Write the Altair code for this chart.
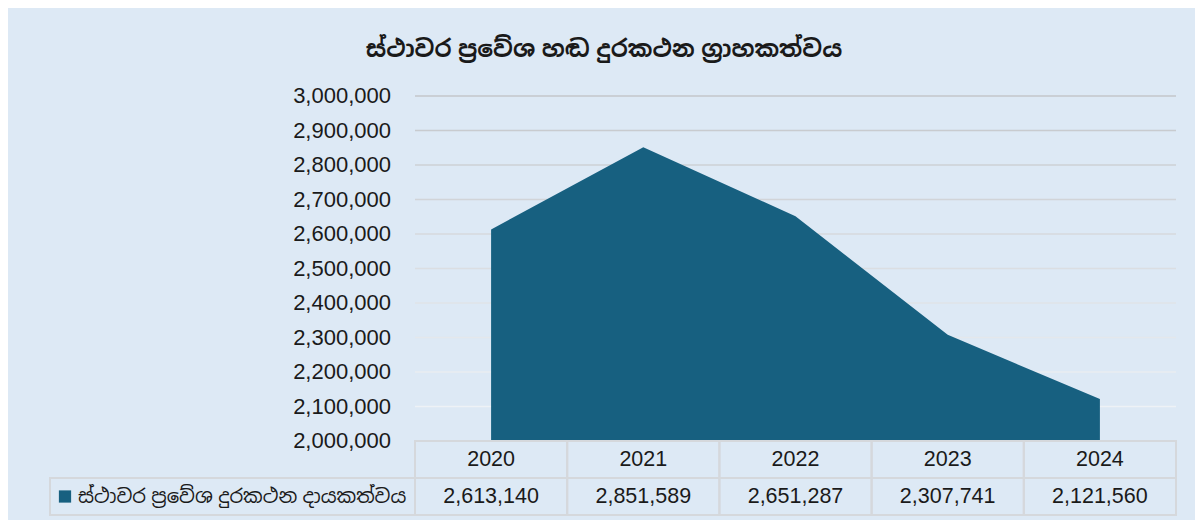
import altair as alt
import pandas as pd

# ---- data ----
title_text = "ස්ථාවර ප්\u200dරවේශ හඬ දුරකථන ග්\u200dරාහකත්වය"
series_name = "ස්ථාවර ප්\u200dරවේශ දුරකථන දායකත්වය"
years = ["2020", "2021", "2022", "2023", "2024"]
subscriptions = [2613140, 2851589, 2651287, 2307741, 2121560]
y_ticks = [2000000, 2100000, 2200000, 2300000, 2400000, 2500000,
           2600000, 2700000, 2800000, 2900000, 3000000]
grid_values = [2100000, 2200000, 2300000, 2400000, 2500000,
               2600000, 2700000, 2800000, 2900000, 3000000]

FONT = "Liberation Sans, Arial, Noto Sans Sinhala, Noto Sans, sans-serif"
BG = "#dde9f5"
AREA = "#176080"
BORDER = "#d5d8dc"
TXT = "#1a1a1a"

W, H = 761, 345
ROW_H = 37

area_df = pd.DataFrame({"year": years, "value": subscriptions})
grid_df = pd.DataFrame({"v": grid_values})
tick_df = pd.DataFrame({"t": y_ticks})

yscale = alt.Scale(domain=[2000000, 3000000], nice=False, zero=False)
xpoint = alt.Scale(type="point", padding=0.5)

grid = alt.Chart(grid_df).mark_rule(strokeWidth=1.6).encode(
    y=alt.Y("v:Q", scale=yscale, axis=None),
    color=alt.Color("v:Q", scale=alt.Scale(domain=[2100000, 3000000],
                                           range=["#eef2f6", "#c3c6ca"]),
                    legend=None),
)

tick_labels = alt.Chart(tick_df).transform_calculate(
    lab="format(datum.t, ',')"
).mark_text(align="right", baseline="middle", fontSize=22, font=FONT, color=TXT).encode(
    y=alt.Y("t:Q", scale=yscale, axis=None),
    x=alt.value(-24),
    text="lab:N",
)

area = alt.Chart(area_df).mark_area(color=AREA, clip=True).encode(
    x=alt.X("year:O", sort=years, scale=xpoint, axis=None),
    y=alt.Y("value:Q", scale=yscale, axis=None),
)

top = alt.layer(grid, area, tick_labels).properties(width=W, height=H)

# ---- table ----
rows = []
for yr, v in zip(years, subscriptions):
    rows.append({"year": yr, "row": "head", "label": yr})
    rows.append({"year": yr, "row": "val", "label": f"{v:,}"})
table_df = pd.DataFrame(rows)

xband = alt.X("year:O", sort=years, scale=alt.Scale(paddingInner=0, paddingOuter=0), axis=None)
yband = alt.Y("row:N", sort=["head", "val"], scale=alt.Scale(paddingInner=0, paddingOuter=0), axis=None)

cells = alt.Chart(table_df).mark_rect(fillOpacity=0, stroke=BORDER, strokeWidth=2).encode(
    x=xband, y=yband)
cell_text = alt.Chart(table_df).mark_text(fontSize=21.5, font=FONT, color=TXT).encode(
    x=xband, y=yband, text="label:N")

legend_df = pd.DataFrame({"row": ["val"], "name": [series_name]})
leg_cell = alt.Chart(legend_df).mark_rect(fillOpacity=0, stroke=BORDER, strokeWidth=2).encode(
    x=alt.value(-365), x2=alt.value(0), y=yband)
leg_square = alt.Chart(legend_df).mark_square(size=150, color=AREA, opacity=1).encode(
    x=alt.value(-350), y=yband)
leg_text = alt.Chart(legend_df).mark_text(fontSize=19.5, font=FONT, color=TXT, align="left").encode(
    x=alt.value(-337), y=yband, text="name:N")

table = alt.layer(cells, cell_text, leg_cell, leg_square, leg_text).properties(
    width=W, height=2 * ROW_H)

chart = alt.vconcat(top, table, spacing=0, bounds="flush").properties(
    title=alt.Title(title_text, fontSize=23.5, fontWeight="bold", font=FONT,
                    color=TXT, anchor="middle", offset=24, dx=-9),
    background=BG,
    padding={"left": 41, "top": 29, "right": 18, "bottom": 4},
).configure_view(stroke=None)

chart.save("out.html", embed_options={"renderer": "svg", "actions": False})
